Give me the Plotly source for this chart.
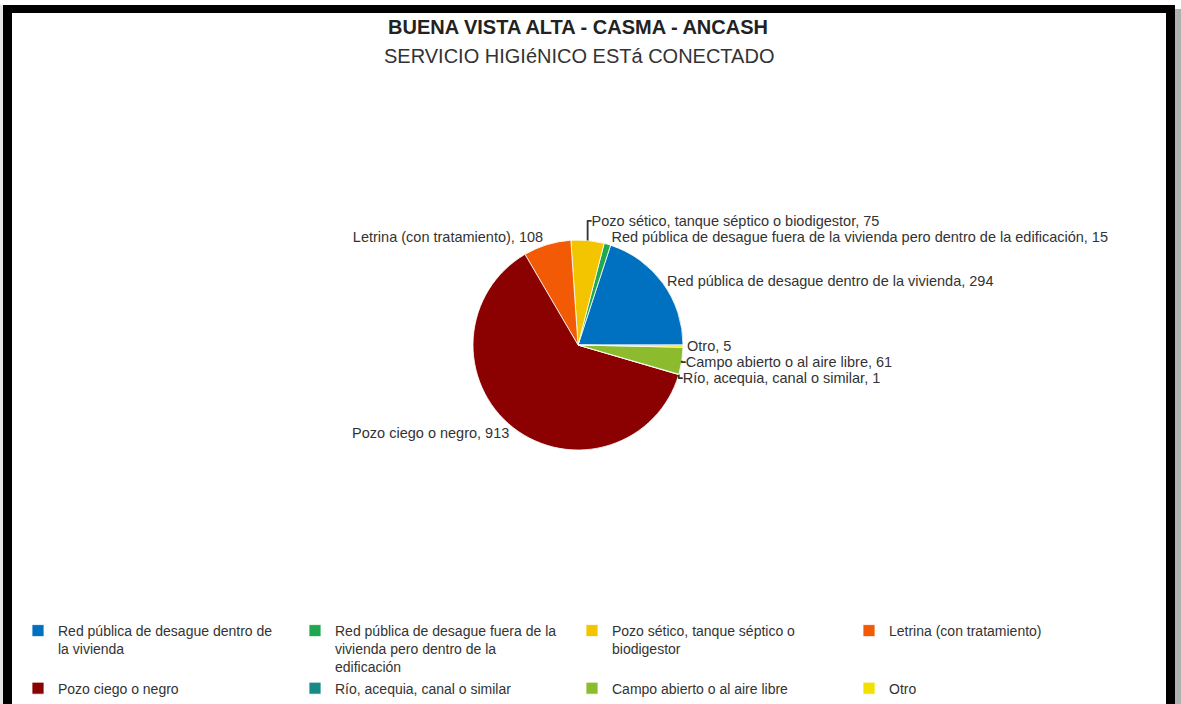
import plotly.graph_objects as go

W, H = 1181, 704

categories = [
    "Red pública de desague dentro de la vivienda",
    "Red pública de desague fuera de la vivienda pero dentro de la edificación",
    "Pozo sético, tanque séptico o biodigestor",
    "Letrina (con tratamiento)",
    "Pozo ciego o negro",
    "Río, acequia, canal o similar",
    "Campo abierto o al aire libre",
    "Otro",
]
legend_labels = [
    "Red pública de desague dentro de<br>la vivienda",
    "Red pública de desague fuera de la<br>vivienda pero dentro de la<br>edificación",
    "Pozo sético, tanque séptico o<br>biodigestor",
    "Letrina (con tratamiento)",
    "Pozo ciego o negro",
    "Río, acequia, canal o similar",
    "Campo abierto o al aire libre",
    "Otro",
]
values = [294, 15, 75, 108, 913, 1, 61, 5]
colors = ["#0070c0", "#1fa84f", "#f2c500", "#f25a05", "#8b0000", "#188a86", "#8cbb2d", "#f2e000"]

title_text = "BUENA VISTA ALTA - CASMA - ANCASH"
subtitle_text = "SERVICIO HIGIéNICO ESTá CONECTADO"

FONT = "Liberation Sans, Arial, sans-serif"


def px_x(p):
    return p / W


def px_y(p):
    return 1 - p / H


# first slice ends at 3 o'clock, slices run counterclockwise
start_rotation = 90 - 360 * values[0] / sum(values)

fig = go.Figure()
fig.add_trace(go.Pie(
    labels=legend_labels,
    values=values,
    customdata=categories,
    texttemplate="%{customdata}, %{value}",
    textposition="outside",
    sort=False,
    direction="counterclockwise",
    rotation=start_rotation,
    marker=dict(colors=colors, line=dict(color="white", width=0.8)),
    outsidetextfont=dict(family=FONT, size=14.5, color="#333333"),
    domain=dict(x=[px_x(473), px_x(683)], y=[px_y(450), px_y(240)]),
    hovertemplate="%{customdata}: %{value}<extra></extra>",
))

shapes = [
    dict(type="rect", xref="paper", yref="paper", x0=0, x1=px_x(3), y0=0, y1=px_y(5),
         fillcolor="#e6e6e6", line_width=0, layer="above"),
    dict(type="rect", xref="paper", yref="paper", x0=px_x(3), x1=px_x(12), y0=0, y1=px_y(5),
         fillcolor="black", line_width=0, layer="above"),
    dict(type="rect", xref="paper", yref="paper", x0=px_x(3), x1=px_x(1175), y0=px_y(13), y1=px_y(5),
         fillcolor="black", line_width=0, layer="above"),
    dict(type="rect", xref="paper", yref="paper", x0=px_x(1166), x1=px_x(1175), y0=0, y1=px_y(5),
         fillcolor="black", line_width=0, layer="above"),
    dict(type="rect", xref="paper", yref="paper", x0=px_x(1175), x1=1, y0=0, y1=px_y(9),
         fillcolor="#b0b0b0", line_width=0, layer="above"),
]

annotations = [
    dict(text="<b>" + title_text + "</b>", x=px_x(578), y=px_y(27), xref="paper", yref="paper",
         xanchor="center", yanchor="middle", showarrow=False,
         font=dict(family=FONT, size=20, color="#222222")),
    dict(text=subtitle_text, x=px_x(579), y=px_y(56), xref="paper", yref="paper",
         xanchor="center", yanchor="middle", showarrow=False,
         font=dict(family=FONT, size=20, color="#333333")),
]

fig.update_layout(
    width=W, height=H,
    margin=dict(l=0, r=0, t=0, b=0, autoexpand=False),
    paper_bgcolor="white",
    plot_bgcolor="white",
    font=dict(family=FONT, size=14, color="#333333"),
    showlegend=True,
    legend=dict(
        orientation="h",
        x=px_x(18), y=px_y(615), xanchor="left", yanchor="top",
        entrywidth=232, entrywidthmode="pixels",
        font=dict(family=FONT, size=14, color="#333333"),
        traceorder="normal",
        valign="top",
        bgcolor="rgba(0,0,0,0)",
    ),
    shapes=shapes,
    annotations=annotations,
)

fig.write_html(
    "out.html",
    config={"displayModeBar": False},
    post_script=(
        "document.body.style.margin='0px';"
        "document.body.style.overflow='hidden';"
        "document.documentElement.style.overflow='hidden';"
    ),
)
